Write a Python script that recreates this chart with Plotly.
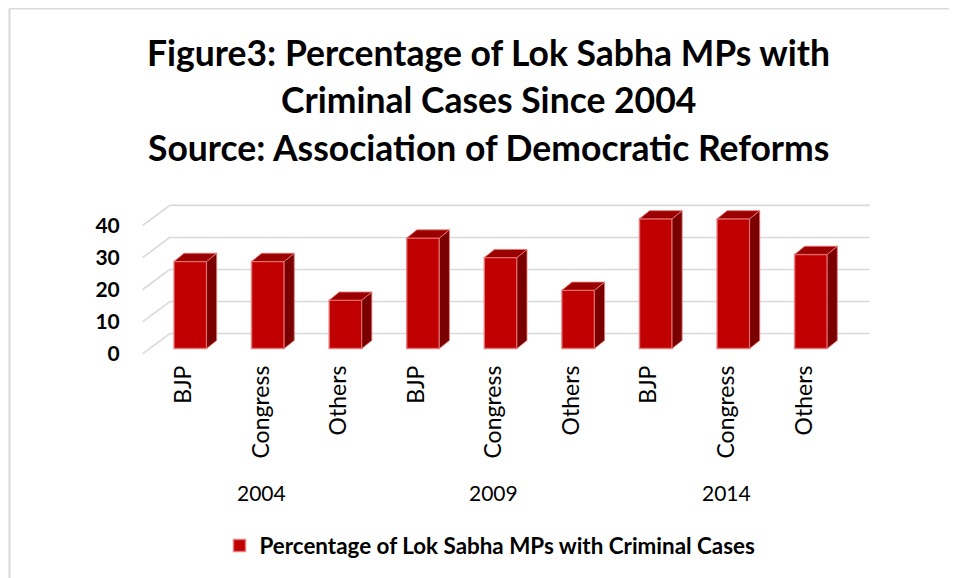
import plotly.graph_objects as go

# ---- data ----
parties = ["BJP", "Congress", "Others", "BJP", "Congress", "Others", "BJP", "Congress", "Others"]
years = ["2004", "2009", "2014"]
values = [27.2, 27.2, 15.1, 34.5, 28.4, 18.2, 40.5, 40.5, 29.4]
y_ticks = [0, 10, 20, 30, 40]
series_name = "Percentage of Lok Sabha MPs with Criminal Cases"
title_lines = [
    "Figure3: Percentage of Lok Sabha MPs with",
    "Criminal Cases Since 2004",
    "Source: Association of Democratic Reforms",
]

# ---- 3D styling parameters (oblique projection, in axis units) ----
DX, DY = 0.348, 6.25        # depth of the floor/back wall
F = 0.25                    # depth position of the bar front faces
BW = 0.42                   # bar width
BDX, BDY = 0.13, 2.55       # bar depth
X_LEFT, X_RIGHT = -0.525, 8.845

FONT = "Lato"
FRONT = "#C00000"
SIDE = "#7A0000"
TOP = "#9A0000"
EDGE = "rgba(232,120,120,0.85)"

# page offset (browser body margin) so layout is given in screen pixels
OFF = 8
W, H = 957, 578
L, R, T, B = 137 - OFF, W - 874 + OFF, 203 - OFF, H - 360 + OFF
PW, PH = W - L - R, H - T - B


def px(sx):
    return (sx - OFF - L) / PW


def py(sy):
    return (H - B - (sy - OFF)) / PH


fig = go.Figure()

# gridlines (below the traces): front diagonal on the side wall + back-wall horizontal
for v in y_ticks:
    fig.add_shape(type="line", xref="x", yref="y", x0=X_LEFT, y0=v, x1=X_LEFT + DX, y1=v + DY,
                  line=dict(color="#D9D9D9", width=1.6), layer="below")
    fig.add_shape(type="line", xref="x", yref="y", x0=X_LEFT + DX, y0=v + DY, x1=X_RIGHT, y1=v + DY,
                  line=dict(color="#D9D9D9", width=1.6), layer="below")

xs = [i + F * DX for i in range(len(values))]
base = F * DY

# front faces
fig.add_trace(go.Bar(x=xs, y=values, base=[base] * len(values), width=BW, name=series_name,
                     marker=dict(color=FRONT, line=dict(color=EDGE, width=1.5)),
                     showlegend=True))

# side and top faces
sx_, sy_, tx_, ty_ = [], [], [], []
for xc, v in zip(xs, values):
    xl, xr = xc - BW / 2, xc + BW / 2
    b, t = base, base + v
    sx_ += [xr, xr, xr + BDX, xr + BDX, xr, None]
    sy_ += [b, t, t + BDY, b + BDY, b, None]
    tx_ += [xl, xr, xr + BDX, xl + BDX, xl, None]
    ty_ += [t, t, t + BDY, t + BDY, t, None]
fig.add_trace(go.Scatter(x=sx_, y=sy_, mode="lines", fill="toself", fillcolor=SIDE,
                         line=dict(color=EDGE, width=1), hoverinfo="skip", showlegend=False))
fig.add_trace(go.Scatter(x=tx_, y=ty_, mode="lines", fill="toself", fillcolor=TOP,
                         line=dict(color=EDGE, width=1), hoverinfo="skip", showlegend=False))

# title lines
for txt, sy in zip(title_lines, [52, 100, 147]):
    fig.add_annotation(text="<b>%s</b>" % txt, xref="paper", yref="paper",
                       x=px(488.5), y=py(sy), xanchor="center", yanchor="middle",
                       showarrow=False, font=dict(family=FONT, size=35.5, color="#000000"))

# year group labels
for k, yr in enumerate(years):
    fig.add_annotation(text=yr, xref="x", yref="paper", x=3 * k + 1, y=py(492),
                       xanchor="center", yanchor="middle", showarrow=False,
                       font=dict(family=FONT, size=21, color="#000000"))

# chart frame (cropped at right/bottom)
fig.add_shape(type="line", xref="paper", yref="paper", x0=px(9.5), x1=px(980),
              y0=py(8.5), y1=py(8.5), line=dict(color="#D9D9D9", width=2))
fig.add_shape(type="line", xref="paper", yref="paper", x0=px(9.5), x1=px(9.5),
              y0=py(8.5), y1=py(600), line=dict(color="#D9D9D9", width=2))

fig.update_layout(
    width=W, height=H,
    margin=dict(l=L, r=R, t=T, b=B, autoexpand=False),
    paper_bgcolor="white", plot_bgcolor="white",
    barmode="overlay",
    showlegend=True,
    legend=dict(orientation="h", xref="paper", yref="paper",
                x=px(490), xanchor="center", y=py(546), yanchor="middle",
                font=dict(family=FONT, size=22.4, color="#000000", weight="bold"),
                itemwidth=30, tracegroupgap=0),
    xaxis=dict(range=[-0.6, 8.9], tickvals=list(range(len(parties))), ticktext=parties,
               tickangle=-90, showgrid=False, zeroline=False, showline=False,
               ticks="", automargin=False,
               tickfont=dict(family=FONT, size=23, color="#000000")),
    yaxis=dict(range=[-2, 47], tickvals=y_ticks, showgrid=False, zeroline=False,
               showline=False, ticks="outside", ticklen=12, tickcolor="rgba(0,0,0,0)",
               automargin=False,
               tickfont=dict(family=FONT, size=21, color="#000000", weight="bold")),
)

fig.write_html("out.html")
